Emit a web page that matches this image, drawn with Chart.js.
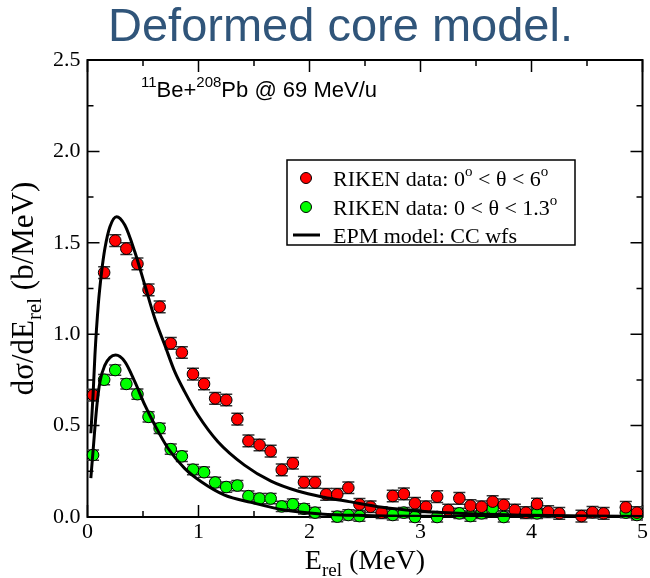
<!DOCTYPE html>
<html>
<head>
<meta charset="utf-8">
<title>Deformed core model</title>
<script src="https://cdn.jsdelivr.net/npm/chart.js@4.4.0/dist/chart.umd.min.js"></script>
<style>
  html, body { margin: 0; padding: 0; background: #fff; }
</style>
</head>
<body>
<canvas id="myChart" width="650" height="578"></canvas>
<script>
// RIKEN breakup data, 0 < theta < 6 deg
let redE = [0.05, 0.15, 0.25, 0.35, 0.45, 0.55, 0.65, 0.75, 0.85, 0.95,
            1.05, 1.15, 1.25, 1.35, 1.45, 1.55, 1.65, 1.75, 1.85, 1.95,
            2.05, 2.15, 2.25, 2.35, 2.45, 2.55, 2.65, 2.75, 2.85, 2.95,
            3.05, 3.15, 3.25, 3.35, 3.45, 3.55, 3.65, 3.75, 3.85, 3.95,
            4.05, 4.15, 4.25, 4.45, 4.55, 4.65, 4.85, 4.95];
let redSigma = [0.667, 1.337, 1.512, 1.468, 1.385, 1.243, 1.150, 0.950, 0.900, 0.782,
                0.728, 0.649, 0.640, 0.535, 0.416, 0.394, 0.360, 0.258, 0.294, 0.190,
                0.189, 0.124, 0.124, 0.160, 0.069, 0.056, 0.024, 0.115, 0.126, 0.075,
                0.056, 0.111, 0.038, 0.102, 0.062, 0.056, 0.084, 0.066, 0.038, 0.024,
                0.071, 0.029, 0.020, 0.005, 0.026, 0.020, 0.053, 0.024];
let redErr = 0.032;

// RIKEN breakup data, 0 < theta < 1.3 deg
let greenE = [0.05, 0.15, 0.25, 0.35, 0.45, 0.55, 0.65, 0.75, 0.85, 0.95,
              1.05, 1.15, 1.25, 1.35, 1.45, 1.55, 1.65, 1.75, 1.85, 1.95,
              2.05, 2.25, 2.35, 2.45, 2.75, 2.85, 2.95, 3.15, 3.35, 3.45,
              3.55, 3.65, 3.75, 4.05, 4.85, 4.95];
let greenSigma = [0.339, 0.751, 0.804, 0.728, 0.672, 0.548, 0.485, 0.371, 0.332, 0.259,
                  0.245, 0.189, 0.164, 0.172, 0.114, 0.101, 0.101, 0.058, 0.070, 0.045,
                  0.024, 0.002, 0.011, 0.005, 0.011, 0.024, 0.000, 0.000, 0.020, 0.005,
                  0.020, 0.048, 0.000, 0.020, 0.024, 0.011];
let greenErr = 0.028;

// EPM model, CC wave functions
let epmWideE = [0.03, 0.05, 0.067, 0.097, 0.127, 0.157, 0.202, 0.262, 0.336, 0.426,
                0.516, 0.606, 0.696, 0.786, 0.875, 0.995, 1.175, 1.414, 1.653, 1.893,
                2.13, 2.356, 2.655, 2.955, 3.5, 4.0, 4.5, 5.0];
let epmWide = [0.458, 0.667, 0.886, 1.16, 1.34, 1.47, 1.588, 1.643, 1.597, 1.451,
               1.269, 1.087, 0.941, 0.795, 0.686, 0.558, 0.412, 0.284, 0.196, 0.142,
               0.108, 0.084, 0.053, 0.034, 0.016, 0.009, 0.005, 0.003];
let epmNarrowE = [0.03, 0.052, 0.082, 0.112, 0.157, 0.202, 0.253, 0.336, 0.426, 0.516,
                  0.606, 0.725, 0.875, 1.025, 1.235, 1.474, 1.773, 2.1, 2.5, 3.0,
                  4.0, 5.0];
let epmNarrow = [0.212, 0.376, 0.595, 0.74, 0.831, 0.872, 0.886, 0.85, 0.74, 0.613,
                 0.503, 0.376, 0.266, 0.193, 0.12, 0.08, 0.038, 0.017, 0.008, 0.004,
                 0.002, 0.001];

let xTicks = [0, 1, 2, 3, 4, 5];
let yTicks = [0.0, 0.5, 1.0, 1.5, 2.0, 2.5];

const serif = "'Liberation Serif', 'Times New Roman', serif";
const sans = "'Liberation Sans', Arial, sans-serif";

function pairs(xs, ys) {
    return xs.map((v, i) => ({ x: v, y: ys[i] }));
}

// draws a run of text pieces (normal / sub / sup) starting at x
function richText(ctx, parts, x, y, align) {
    let total = 0;
    parts.forEach(p => {
        ctx.font = p.size + 'px ' + p.family;
        p.w = ctx.measureText(p.t).width;
        total += p.w;
    });
    let cx = align === 'center' ? x - total / 2 : x;
    parts.forEach(p => {
        ctx.font = p.size + 'px ' + p.family;
        ctx.fillText(p.t, cx, y + (p.dy || 0));
        cx += p.w;
    });
}

// inward ticks on all four sides plus the box
const frameTicks = {
    id: 'frameTicks',
    beforeDatasetsDraw(chart) {
        const { ctx, chartArea: a, scales: { x, y } } = chart;
        ctx.save();
        ctx.strokeStyle = '#000';
        ctx.lineWidth = 1.5;
        ctx.beginPath();
        for (let i = 0; i < xTicks.length; i++) {
            let px = x.getPixelForValue(xTicks[i]);
            ctx.moveTo(px, a.bottom); ctx.lineTo(px, a.bottom - 12);
            ctx.moveTo(px, a.top); ctx.lineTo(px, a.top + 12);
            if (i < xTicks.length - 1) {
                let pm = x.getPixelForValue((xTicks[i] + xTicks[i + 1]) / 2);
                ctx.moveTo(pm, a.bottom); ctx.lineTo(pm, a.bottom - 6);
                ctx.moveTo(pm, a.top); ctx.lineTo(pm, a.top + 6);
            }
        }
        for (let i = 0; i < yTicks.length; i++) {
            let py = y.getPixelForValue(yTicks[i]);
            ctx.moveTo(a.left, py); ctx.lineTo(a.left + 12, py);
            ctx.moveTo(a.right, py); ctx.lineTo(a.right - 12, py);
            if (i < yTicks.length - 1) {
                let pm = y.getPixelForValue((yTicks[i] + yTicks[i + 1]) / 2);
                ctx.moveTo(a.left, pm); ctx.lineTo(a.left + 6, pm);
                ctx.moveTo(a.right, pm); ctx.lineTo(a.right - 6, pm);
            }
        }
        ctx.stroke();
        ctx.lineWidth = 2;
        ctx.strokeRect(a.left, a.top, a.width, a.height);
        ctx.restore();
    }
};

// vertical error bars with caps, drawn under the markers
const errorBars = {
    id: 'errorBars',
    beforeDatasetsDraw(chart) {
        const { ctx, scales: { y } } = chart;
        ctx.save();
        ctx.strokeStyle = '#333';
        ctx.lineWidth = 1.5;
        chart.data.datasets.forEach((ds, i) => {
            if (!ds.errorBar) return;
            chart.getDatasetMeta(i).data.forEach((pt, j) => {
                let v = ds.data[j].y;
                let top = y.getPixelForValue(v + ds.errorBar);
                let bot = y.getPixelForValue(v - ds.errorBar);
                ctx.beginPath();
                ctx.moveTo(pt.x, top); ctx.lineTo(pt.x, bot);
                ctx.moveTo(pt.x - 6, top); ctx.lineTo(pt.x + 6, top);
                ctx.moveTo(pt.x - 6, bot); ctx.lineTo(pt.x + 6, bot);
                ctx.stroke();
            });
        });
        ctx.restore();
    }
};

// axis titles, reaction label and legend box
const labels = {
    id: 'labels',
    afterDraw(chart) {
        const { ctx, chartArea: a } = chart;
        ctx.save();
        ctx.fillStyle = '#000';
        ctx.textBaseline = 'alphabetic';

        richText(ctx, [
            { t: 'E', size: 28, family: serif },
            { t: 'rel', size: 19, family: serif, dy: 7 },
            { t: ' (MeV)', size: 28, family: serif }
        ], (a.left + a.right) / 2, 569, 'center');

        ctx.save();
        ctx.translate(33, (a.top + a.bottom) / 2);
        ctx.rotate(-Math.PI / 2);
        richText(ctx, [
            { t: 'dσ/dE', size: 31, family: serif },
            { t: 'rel', size: 21, family: serif, dy: 8 },
            { t: ' (b/MeV)', size: 31, family: serif }
        ], 0, 0, 'center');
        ctx.restore();

        richText(ctx, [
            { t: '11', size: 15, family: sans, dy: -10 },
            { t: 'Be+', size: 22, family: sans },
            { t: '208', size: 15, family: sans, dy: -10 },
            { t: 'Pb @ 69 MeV/u', size: 22, family: sans }
        ], 141, 97, 'left');

        // legend
        let lx = 287, ly = 160, lw = 288, lh = 85;
        ctx.fillStyle = '#fff';
        ctx.fillRect(lx, ly, lw, lh);
        ctx.strokeStyle = '#000';
        ctx.lineWidth = 1.5;
        ctx.strokeRect(lx, ly, lw, lh);

        const dot = (cx, cy, color) => {
            ctx.beginPath();
            ctx.arc(cx, cy, 5.5, 0, Math.PI * 2);
            ctx.fillStyle = color;
            ctx.fill();
            ctx.lineWidth = 1;
            ctx.strokeStyle = '#000';
            ctx.stroke();
        };
        dot(306, 178, '#ff0000');
        dot(306, 207, '#00ff00');
        ctx.beginPath();
        ctx.lineWidth = 3;
        ctx.moveTo(293, 235); ctx.lineTo(320, 235);
        ctx.stroke();

        ctx.fillStyle = '#000';
        richText(ctx, [
            { t: 'RIKEN data: 0', size: 22, family: serif },
            { t: 'o', size: 15, family: serif, dy: -10 },
            { t: ' < θ < 6', size: 22, family: serif },
            { t: 'o', size: 15, family: serif, dy: -10 }
        ], 333, 186, 'left');
        richText(ctx, [
            { t: 'RIKEN data: 0 < θ < 1.3', size: 22, family: serif },
            { t: 'o', size: 15, family: serif, dy: -10 }
        ], 333, 215, 'left');
        richText(ctx, [
            { t: 'EPM model: CC wfs', size: 22, family: serif }
        ], 333, 243, 'left');
        ctx.restore();
    }
};

let myChart = document.getElementById('myChart').getContext('2d');

let chart = new Chart(myChart, {
    type: 'scatter',
    data: {
        datasets: [
            {
                label: 'EPM model: CC wfs',
                data: pairs(epmWideE, epmWide),
                showLine: true,
                borderColor: '#000',
                borderWidth: 3,
                pointRadius: 0,
                cubicInterpolationMode: 'monotone',
                order: 0
            },
            {
                label: 'EPM model: CC wfs (narrow)',
                data: pairs(epmNarrowE, epmNarrow),
                showLine: true,
                borderColor: '#000',
                borderWidth: 3,
                pointRadius: 0,
                cubicInterpolationMode: 'monotone',
                order: 0
            },
            {
                label: 'RIKEN data: 0 < θ < 6',
                data: pairs(redE, redSigma),
                errorBar: redErr,
                backgroundColor: '#ff0000',
                borderColor: '#000',
                borderWidth: 1,
                pointRadius: 5.8,
                clip: false,
                order: 1
            },
            {
                label: 'RIKEN data: 0 < θ < 1.3',
                data: pairs(greenE, greenSigma),
                errorBar: greenErr,
                backgroundColor: '#00ff00',
                borderColor: '#000',
                borderWidth: 1,
                pointRadius: 5.8,
                clip: false,
                order: 1
            }
        ]
    },
    options: {
        responsive: false,
        animation: false,
        devicePixelRatio: 1,
        layout: { padding: { left: 36, right: 5, top: 0, bottom: 0 } },
        plugins: {
            legend: { display: false },
            tooltip: { enabled: false },
            title: {
                display: true,
                text: 'Deformed core model.',
                color: '#30557a',
                font: { family: sans, size: 47, weight: 'normal', lineHeight: 1 },
                padding: { top: 5, bottom: 8 }
            }
        },
        scales: {
            x: {
                type: 'linear',
                min: 0,
                max: 5,
                afterFit: s => { s.height = 61; },
                afterBuildTicks: s => { s.ticks = xTicks.map(v => ({ value: v })); },
                grid: { display: false, drawTicks: false },
                border: { display: false },
                ticks: {
                    padding: 2,
                    color: '#000',
                    font: { family: serif, size: 22 },
                    callback: v => String(v)
                }
            },
            y: {
                type: 'linear',
                min: 0,
                max: 2.5,
                afterFit: s => { s.width = 51.5; },
                afterBuildTicks: s => { s.ticks = yTicks.map(v => ({ value: v })); },
                grid: { display: false, drawTicks: false },
                border: { display: false },
                ticks: {
                    padding: 7,
                    color: '#000',
                    font: { family: serif, size: 22 },
                    callback: v => v.toFixed(1)
                }
            }
        }
    },
    plugins: [frameTicks, errorBars, labels]
});
</script>
</body>
</html>
